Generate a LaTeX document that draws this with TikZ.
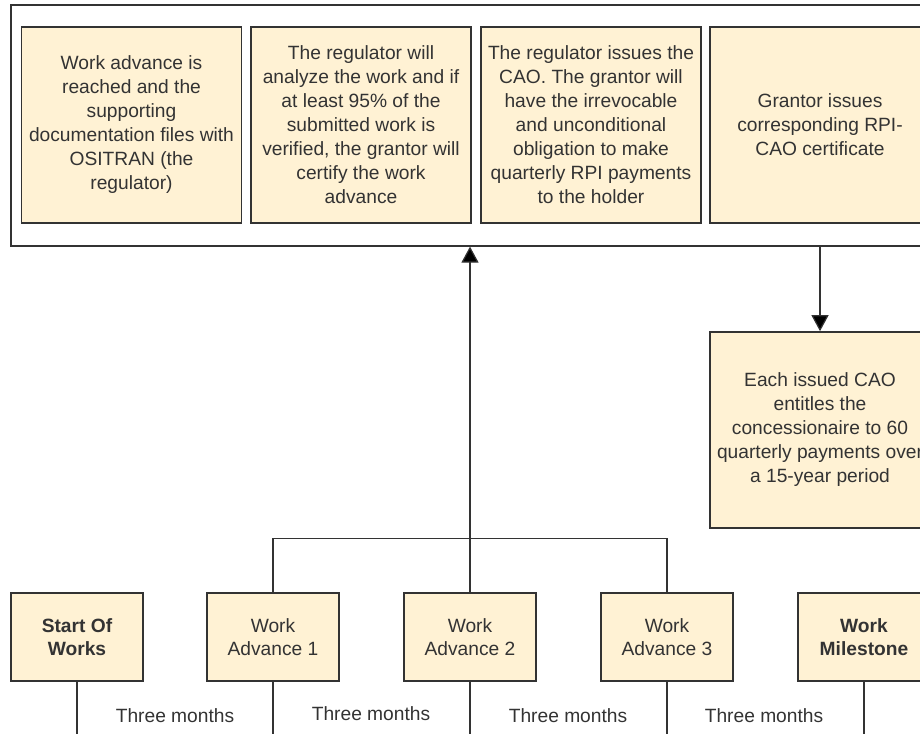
\documentclass[tikz,border=0pt]{standalone}
\usepackage{fontspec}
\setmainfont{Liberation Sans}
\usetikzlibrary{arrows.meta}
\definecolor{cream}{HTML}{FFF2D4}
\definecolor{ink}{HTML}{333333}

\begin{document}
\begin{tikzpicture}
[
x=0.5pt, y=-0.5pt,
stepbox/.style={rectangle, draw=ink, fill=cream, thick, align=center, text=ink, font=\fontsize{9.6}{12}\selectfont, minimum width=110pt, minimum height=98pt, inner sep=1pt},
event/.style={rectangle, draw=ink, fill=cream, thick, align=center, text=ink, font=\fontsize{9.6}{11.5}\selectfont, minimum width=66pt, minimum height=44pt, inner sep=1pt},
group/.style={rectangle, draw=ink, line width=0.6pt, minimum width=465pt, minimum height=120.5pt},
link/.style={draw=ink, line width=0.6pt},
arr/.style={link, -{Triangle[length=8pt,width=8.5pt,fill=black]}},
period/.style={text=ink, font=\fontsize{9.6}{12}\selectfont},
]

\clip (0,0) rectangle (920,733);

\node at (476,125.5) [group] (grp) {};

\node at (131.5,125) [stepbox] (r1) {Work advance is\\reached and the\\supporting\\documentation files with\\OSITRAN (the\\regulator)};
\node at (361,125) [stepbox] (r2) {The regulator will\\analyze the work and if\\at least 95\% of the\\submitted work is\\verified, the grantor will\\certify the work\\advance};
\node at (591,125) [stepbox] (r3) {The regulator issues the\\CAO. The grantor will\\have the irrevocable\\and unconditional\\obligation to make\\quarterly RPI payments\\to the holder};
\node at (820,125) [stepbox] (r4) {Grantor issues\\corresponding RPI-\\CAO certificate};

\node at (820,430) [stepbox] (cao) {Each issued CAO\\entitles the\\concessionaire to 60\\quarterly payments over\\a 15-year period};

\node at (77,637) [event] (sw) {\bfseries Start Of\\\bfseries Works};
\node at (273,637) [event] (wa1) {Work\\Advance 1};
\node at (470,637) [event] (wa2) {Work\\Advance 2};
\node at (667,637) [event] (wa3) {Work\\Advance 3};
\node at (864,637) [event] (ms) {\bfseries Work\\\bfseries Milestone};

\draw[arr] (wa2.north) -- (wa2.north |- grp.south);
\draw[link] (wa1.north) -- ++(0,-54) -| (wa3.north);
\draw[arr] (r4.south |- grp.south) -- (cao.north);

\coordinate (base) at (0,745);
\foreach \n in {sw,wa1,wa2,wa3,ms}
  \draw[link] (\n.south) -- (\n.south |- base);

\node at (175,716) [period] (m1) {Three months};
\node at (371,714) [period] (m2) {Three months};
\node at (568,716) [period] (m3) {Three months};
\node at (764,716) [period] (m4) {Three months};

\end{tikzpicture}
\end{document}
